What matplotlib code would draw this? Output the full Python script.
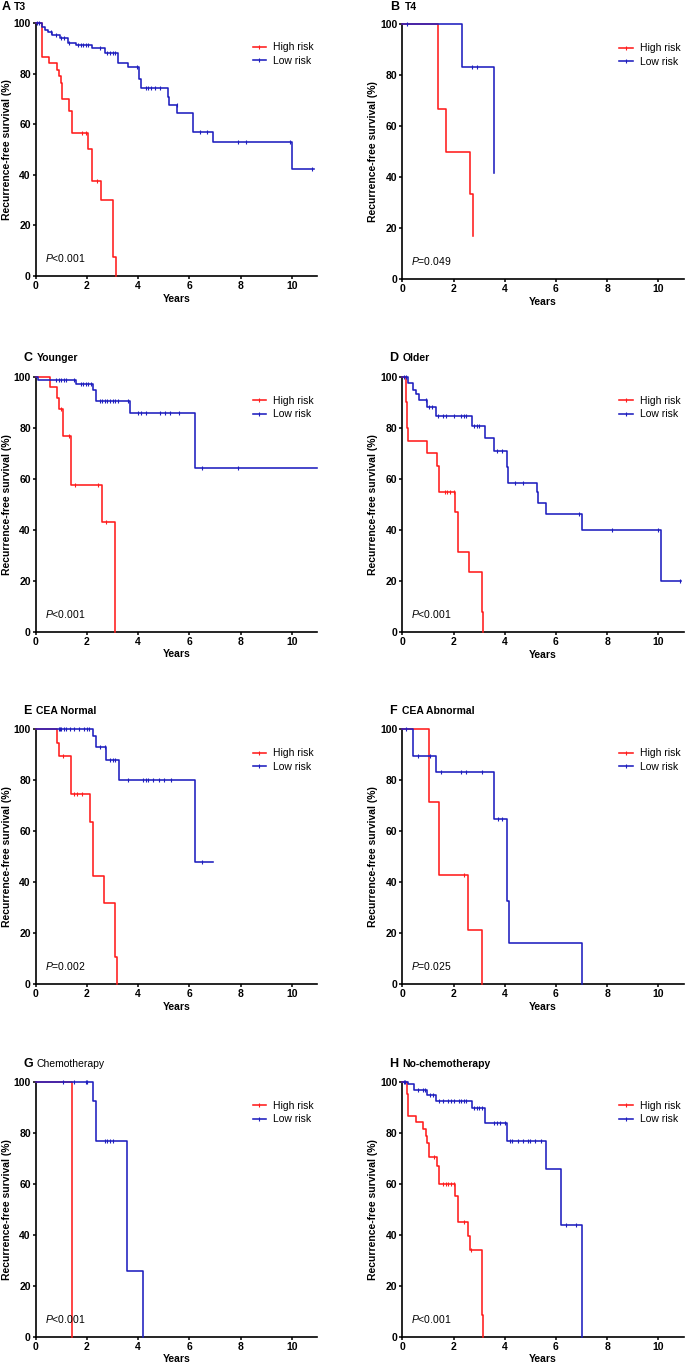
import numpy as np
import matplotlib
matplotlib.use("Agg")
import matplotlib.pyplot as plt
from matplotlib.lines import Line2D

plt.rcParams['font.family'] = ['Liberation Sans', 'DejaVu Sans']
plt.rcParams['mathtext.fontset'] = 'custom'
plt.rcParams['mathtext.rm'] = 'Liberation Sans'
plt.rcParams['mathtext.it'] = 'Liberation Sans:italic'

# Panel A - T3
a_high_t = [0.23, 0.53, 0.85, 0.92, 0.98, 1.03, 1.32, 1.42, 2.06, 2.20, 2.54, 3.03, 3.13]
a_high_s = [86.6, 84.2, 81.5, 79.0, 76.5, 70.0, 65.4, 56.6, 50.2, 37.6, 30.2, 7.5, 0]
a_high_end = 3.13
a_high_c = [1.80, 1.97, 2.38]
a_low_t = [0.23, 0.36, 0.49, 0.62, 0.95, 1.28, 1.58, 2.19, 2.71, 3.20, 3.62, 4.05, 4.10,
           5.18, 5.22, 5.51, 6.13, 6.94, 10.0]
a_low_s = [98.7, 97.5, 96.5, 95.4, 94.3, 92.3, 91.3, 90.1, 88.1, 84.4, 82.6, 78.0, 74.4,
           71.0, 67.8, 64.4, 57.1, 52.9, 42.2]
a_low_end = 10.87
a_low_c = [0.07, 0.13, 0.6, 0.8, 1.0, 1.1, 1.3, 1.65, 1.75, 1.85, 1.95, 2.05, 2.5, 2.8, 2.9,
           3.0, 3.1, 3.95, 4.3, 4.4, 4.5, 4.65, 4.85, 5.5, 6.4, 6.7, 7.9, 8.2, 9.95, 10.8]

# Panel B - T4
b_high_t = [1.41, 1.69, 2.64, 2.75]
b_high_s = [66.7, 50.0, 33.3, 16.7]
b_high_end = 2.75
b_high_c = []
b_low_t = [2.34, 3.58]
b_low_s = [83.3, 41.7]
b_low_end = 3.58
b_low_c = [0.17, 2.71, 2.9]

# Panel C - Younger
c_high_t = [0.56, 0.85, 0.92, 1.05, 1.38, 2.58, 3.10]
c_high_s = [95.8, 91.7, 87.5, 76.7, 57.5, 43.1, 0]
c_high_end = 3.10
c_high_c = [1.0, 1.3, 1.54, 2.42, 2.75]
c_low_t = [0.10, 1.58, 2.25, 2.36, 3.68, 6.22]
c_low_s = [98.8, 97.0, 94.8, 90.3, 85.6, 64.3]
c_low_end = 10.98
c_low_c = [0.8, 0.9, 1.0, 1.1, 1.2, 1.5, 1.75, 1.85, 1.95, 2.05, 2.15, 2.5, 2.6, 2.7, 2.8,
           2.9, 3.0, 3.1, 3.2, 3.6, 4.0, 4.1, 4.3, 4.85, 5.05, 5.25, 5.6, 6.5, 7.9]

# Panel D - Older
d_high_t = [0.15, 0.19, 0.23, 0.98, 1.34, 1.45, 2.06, 2.19, 2.62, 3.10, 3.16]
d_high_s = [90, 80, 75, 70, 65, 55, 47.1, 31.3, 23.5, 7.8, 0]
d_high_end = 3.16
d_high_c = [1.65, 1.75, 1.85, 2.0]
d_low_t = [0.21, 0.40, 0.53, 0.66, 0.98, 1.32, 2.73, 3.23, 3.58, 4.08, 4.14, 5.25, 5.30,
           5.60, 7.00, 10.10]
d_low_s = [97.4, 94.7, 93.3, 90.9, 88.0, 84.7, 80.8, 75.8, 70.8, 64.5, 58.4, 54.8, 50.7,
           46.1, 40.1, 20.0]
d_low_end = 10.9
d_low_c = [0.05, 0.15, 0.92, 1.05, 1.15, 1.4, 1.6, 1.7, 2.0, 2.3, 2.4, 2.5, 2.8, 2.9, 3.0,
           3.7, 3.9, 4.4, 4.7, 6.9, 8.2, 10.0, 10.85]

# Panel E - CEA Normal
e_high_t = [0.82, 0.92, 1.38, 2.12, 2.23, 2.67, 3.10, 3.16]
e_high_s = [94.6, 89.5, 74.5, 63.8, 42.5, 31.8, 10.6, 0]
e_high_end = 3.16
e_high_c = [1.05, 1.5, 1.6, 1.8]
e_low_t = [2.25, 2.36, 2.75, 3.24, 6.22]
e_low_s = [97.4, 93.2, 88.0, 80.0, 48.1]
e_low_end = 6.93
e_low_c = [0.9, 0.95, 1.0, 1.1, 1.2, 1.35, 1.5, 1.7, 1.9, 2.0, 2.1, 2.5, 2.7, 2.9, 3.0, 3.1,
           3.6, 4.2, 4.3, 4.4, 4.6, 4.8, 5.0, 5.3, 6.5]

# Panel F - CEA Abnormal
f_high_t = [1.05, 1.45, 2.58, 3.10]
f_high_s = [71.4, 42.9, 21.4, 0]
f_high_end = 3.10
f_high_c = [2.4]
f_low_t = [0.43, 1.32, 3.58, 4.10, 4.15, 7.0]
f_low_s = [89.5, 83.4, 65.0, 32.5, 16.2, 0]
f_low_end = 7.0
f_low_c = [0.15, 0.6, 1.1, 1.5, 2.28, 2.5, 3.1, 3.75, 3.9]

# Panel G - Chemotherapy
g_high_t = [1.41]
g_high_s = [0]
g_high_end = 1.41
g_high_c = []
g_low_t = [2.25, 2.36, 3.58, 4.18]
g_low_s = [92.3, 76.9, 25.6, 0]
g_low_end = 4.18
g_low_c = [1.05, 1.5, 1.95, 2.0, 2.7, 2.8, 2.9, 3.0]

# Panel H - No-chemotherapy
h_high_t = [0.17, 0.23, 0.53, 0.82, 0.91, 0.98, 1.05, 1.34, 1.45, 2.06, 2.19, 2.58, 2.64,
            3.10, 3.16]
h_high_s = [95, 86.7, 84.2, 81.6, 78.9, 75.8, 70.6, 66.9, 60.0, 55.0, 44.9, 39.5, 33.9,
            8.5, 0]
h_high_end = 3.16
h_high_c = [1.25, 1.6, 1.7, 1.8, 1.9, 2.0, 2.4, 2.7]
h_low_t = [0.23, 0.46, 0.98, 1.32, 2.73, 3.23, 4.08, 5.60, 6.18, 7.0]
h_low_s = [99.0, 96.7, 94.8, 92.4, 89.5, 83.7, 76.7, 65.8, 43.8, 0]
h_low_end = 7.0
h_low_c = [0.05, 0.12, 0.6, 0.8, 0.9, 1.1, 1.2, 1.45, 1.6, 1.8, 1.9, 2.0, 2.2, 2.3, 2.4,
           2.5, 2.8, 2.9, 3.0, 3.1, 3.6, 3.7, 3.8, 4.0, 4.2, 4.3, 4.5, 4.7, 4.9, 5.0, 5.2,
           5.4, 6.4, 6.8]

letters = ['A', 'B', 'C', 'D', 'E', 'F', 'G', 'H']
titles = ['T3', 'T4', 'Younger', 'Older', 'CEA Normal', 'CEA Abnormal',
          'Chemotherapy', 'No-chemotherapy']
p_texts = ['<0.001', '=0.049', '<0.001', '<0.001', '=0.002', '=0.025', '<0.001', '<0.001']
groups = ['High risk', 'Low risk']

curves = [
    [(a_high_t, a_high_s, a_high_end, a_high_c), (a_low_t, a_low_s, a_low_end, a_low_c)],
    [(b_high_t, b_high_s, b_high_end, b_high_c), (b_low_t, b_low_s, b_low_end, b_low_c)],
    [(c_high_t, c_high_s, c_high_end, c_high_c), (c_low_t, c_low_s, c_low_end, c_low_c)],
    [(d_high_t, d_high_s, d_high_end, d_high_c), (d_low_t, d_low_s, d_low_end, d_low_c)],
    [(e_high_t, e_high_s, e_high_end, e_high_c), (e_low_t, e_low_s, e_low_end, e_low_c)],
    [(f_high_t, f_high_s, f_high_end, f_high_c), (f_low_t, f_low_s, f_low_end, f_low_c)],
    [(g_high_t, g_high_s, g_high_end, g_high_c), (g_low_t, g_low_s, g_low_end, g_low_c)],
    [(h_high_t, h_high_s, h_high_end, h_high_c), (h_low_t, h_low_s, h_low_end, h_low_c)],
]

RED = '#ff1c1c'
BLUE = '#1e1ebe'
colors = [RED, BLUE]

W, H = 685, 1368
# axes boxes in pixels: left, top, right, bottom
boxes = [
    (35.7, 23.3, 317.3, 276.0), (402.3, 24.3, 683.9, 279.0),
    (35.7, 376.7, 317.3, 631.7), (402.3, 376.7, 683.9, 632.0),
    (35.7, 729.3, 317.3, 984.3), (402.3, 729.3, 683.9, 984.3),
    (35.7, 1081.7, 317.3, 1336.7), (402.3, 1081.7, 683.9, 1336.7),
]
# title positions: letter x, label x, y
title_pos = [(2, 14, 6.5), (390, 405, 7), (23, 36.5, 358), (389, 402.5, 358),
             (23, 36.5, 711), (389, 402.5, 711), (23, 36.5, 1064), (389, 402.5, 1064)]
title_weight = ['bold'] * 6 + ['normal', 'bold']


def km(ax, t, s, end, cens, color):
    x = np.concatenate([[0], t, [end]])
    y = np.concatenate([[100], s, [s[-1]]])
    ax.step(x, y, where='post', color=color, lw=1.15, clip_on=False, zorder=3)
    if len(cens):
        cens = np.asarray(cens)
        idx = np.searchsorted(x[:-1], cens, side='right') - 1
        ax.plot(cens, y[idx], ls='none', marker='|', ms=3.5, mew=0.8, color=color,
                clip_on=False, zorder=3)


fig = plt.figure(figsize=(W / 100, H / 100), dpi=100)

for i in range(8):
    l, t, r, b = boxes[i]
    ax = fig.add_axes([l / W, 1 - b / H, (r - l) / W, (b - t) / H])
    for (ct, cs, cend, cc), col in zip(curves[i], colors):
        km(ax, ct, cs, cend, cc, col)
    ax.set_xlim(0, 11)
    ax.set_ylim(0, 100)
    ax.set_xticks([0, 2, 4, 6, 8, 10])
    ax.set_yticks([0, 20, 40, 60, 80, 100])
    ax.spines['top'].set_visible(False)
    ax.spines['right'].set_visible(False)
    for sp in ['left', 'bottom']:
        ax.spines[sp].set_linewidth(1.2)
    ax.tick_params(direction='out', length=2.5, width=1.1, pad=1.0, labelsize=7.5)
    for lab in ax.get_xticklabels() + ax.get_yticklabels():
        lab.set_fontweight('bold')
    ax.set_xlabel('Years', fontsize=7.5, fontweight='bold', labelpad=2)
    ax.set_ylabel('Recurrence-free survival (%)', fontsize=7.5, fontweight='bold',
                  labelpad=1.5)
    ax.text(0.35, 7, r'$\mathit{P}$' + p_texts[i], fontsize=7.5, va='center', ha='left')

    handles = [Line2D([], [], color=c, lw=1.15, marker='|', ms=3.5, mew=0.8) for c in colors]
    ax.legend(handles, groups, loc='upper left', bbox_to_anchor=(0.77, 0.925),
              frameon=False, fontsize=7.5, handlelength=1.3, handletextpad=0.7,
              labelspacing=0.35, borderpad=0, borderaxespad=0, numpoints=1)

    lx, tx, ty = title_pos[i]
    fig.text(lx / W, 1 - ty / H, letters[i], fontsize=9, fontweight='bold',
             va='center', ha='left')
    fig.text(tx / W, 1 - ty / H, titles[i], fontsize=7.5, fontweight=title_weight[i],
             va='center', ha='left')

fig.savefig('out.png', dpi=100)
